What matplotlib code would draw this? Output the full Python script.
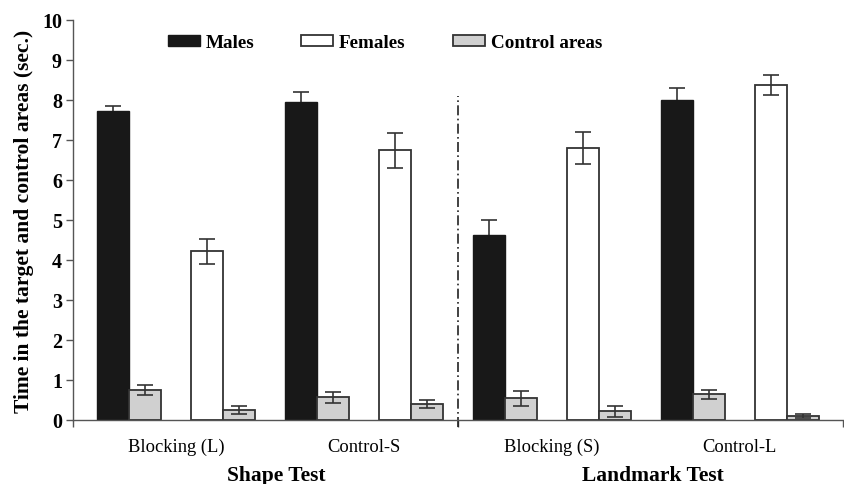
import numpy as np
import matplotlib
matplotlib.use("Agg")
import matplotlib.pyplot as plt
from matplotlib.patches import Patch
from matplotlib.transforms import blended_transform_factory

plt.rcParams['font.family'] = ['Liberation Serif', 'DejaVu Serif']

# conditions, two per test
conditions = ['Blocking (L)', 'Control-S', 'Blocking (S)', 'Control-L']
tests = ['Shape Test', 'Landmark Test']

males = [7.72, 7.95, 4.63, 8.0]
males_err = [0.13, 0.25, 0.36, 0.3]
males_ctrl = [0.75, 0.57, 0.54, 0.64]
males_ctrl_err = [0.12, 0.14, 0.18, 0.12]

females = [4.22, 6.74, 6.8, 8.38]
females_err = [0.31, 0.43, 0.41, 0.25]
females_ctrl = [0.25, 0.4, 0.22, 0.1]
females_ctrl_err = [0.1, 0.1, 0.14, 0.05]

ylabel = 'Time in the target and control areas (sec.)'

# geometry (units of one bar pair)
W = 0.34
OFF = 0.255
XMAX = 770 / 94.
ecol = '#333333'
errkw = dict(fmt='none', ecolor=ecol, elinewidth=1.2, capsize=6, capthick=1.2)

fig = plt.figure(figsize=(8.45, 4.85), dpi=100)
ax = fig.add_axes([73/845., 1 - 421/485., 770/845., 400/485.])

x_m = OFF + 2*np.arange(4)
x_f = x_m + 1

ax.bar(x_m, males, W, align='edge', color='#181818', edgecolor='#181818', lw=1, zorder=2)
ax.bar(x_m + W, males_ctrl, W, align='edge', color='#d0d0d0', edgecolor=ecol, lw=1.3, zorder=2)
ax.bar(x_f, females, W, align='edge', color='white', edgecolor=ecol, lw=1.3, zorder=2)
ax.bar(x_f + W, females_ctrl, W, align='edge', color='#d0d0d0', edgecolor=ecol, lw=1.3, zorder=2)

# male error bars sit behind the black bars, only the top half shows
ax.errorbar(x_m + W/2, males, yerr=males_err, zorder=1.5, **errkw)
ax.errorbar(x_m + 1.5*W, males_ctrl, yerr=males_ctrl_err, zorder=3, **errkw)
ax.errorbar(x_f + W/2, females, yerr=females_err, zorder=3, **errkw)
ax.errorbar(x_f + 1.5*W, females_ctrl, yerr=females_ctrl_err, zorder=3, **errkw)

ax.set_xlim(0, XMAX)
ax.set_ylim(0, 10)
ax.set_yticks(range(11))
ax.set_yticklabels([str(i) for i in range(11)], fontsize=14.5, fontweight='bold')
ax.set_xticks([0, XMAX/2, XMAX])
ax.set_xticklabels([])
ax.tick_params(axis='both', direction='out', length=5, width=1, color='#555555', pad=3)
for s in ['top', 'right']:
    ax.spines[s].set_visible(False)
for s in ['left', 'bottom']:
    ax.spines[s].set_color('#555555')
    ax.spines[s].set_linewidth(1)

# separator between the two tests
ax.axvline(XMAX/2, ymin=-0.018, ymax=0.81, color='#222222', lw=1.2,
           linestyle=(0, (6, 2, 1, 2)), clip_on=False)

trans = blended_transform_factory(ax.transData, ax.transAxes)
for i, c in enumerate(conditions):
    cx = x_m[i] + (1 + 2*W)/2
    ax.text(cx, -0.066, c, transform=trans, ha='center', va='center', fontsize=13.3)
for i, t in enumerate(tests):
    cx = (x_m[2*i] + x_f[2*i+1] + 2*W)/2 + 0.07
    ax.text(cx, -0.137, t, transform=trans, ha='center', va='center',
            fontsize=15.5, fontweight='bold')

ax.set_ylabel(ylabel, fontsize=15.5, fontweight='bold', labelpad=6)

handles = [Patch(facecolor='#181818', edgecolor='#181818', label='Males'),
           Patch(facecolor='white', edgecolor=ecol, lw=1.3, label='Females'),
           Patch(facecolor='#d0d0d0', edgecolor=ecol, lw=1.3, label='Control areas')]
ax.legend(handles=handles, loc='center', bbox_to_anchor=(0.405, 0.943), ncol=3,
          frameon=False, prop=dict(size=13.8, weight='bold'),
          handlelength=1.67, handleheight=0.47, handletextpad=0.31, columnspacing=2.45)

fig.savefig('out.png', dpi=100)
